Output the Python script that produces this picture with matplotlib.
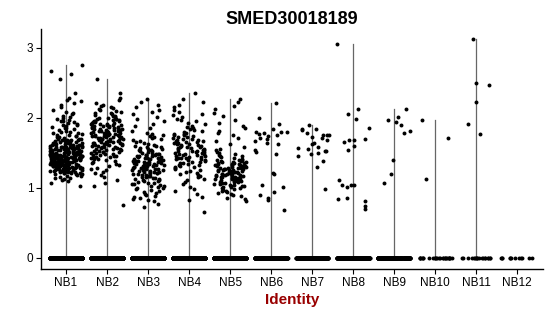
import numpy as np
import matplotlib
matplotlib.use("Agg")
import matplotlib.pyplot as plt

plt.rcParams['font.family'] = ['Liberation Sans', 'DejaVu Sans']

title = "SMED30018189"
clusters = ["NB1", "NB2", "NB3", "NB4", "NB5", "NB6",
            "NB7", "NB8", "NB9", "NB10", "NB11", "NB12"]

# cells with zero expression per cluster (the flat band at 0)
zero_counts = [800, 700, 600, 600, 600, 400, 300, 300, 200, 25, 18, 12]

# big clusters: expression read as histogram (bin start -> cell count), bins of 0.1
bin_width = 0.1
nb1_bins = {1.0: 2, 1.1: 10, 1.2: 30, 1.3: 48, 1.4: 52, 1.5: 40, 1.6: 25,
            1.7: 12, 1.8: 9, 1.9: 9, 2.0: 5, 2.1: 3, 2.2: 4, 2.3: 1,
            2.5: 1, 2.6: 2, 2.7: 1}
nb2_bins = {0.7: 1, 1.0: 2, 1.1: 3, 1.2: 5, 1.3: 6, 1.4: 14, 1.5: 17,
            1.6: 20, 1.7: 24, 1.8: 22, 1.9: 17, 2.0: 10, 2.1: 6, 2.2: 3,
            2.3: 1, 2.5: 1}
nb3_bins = {0.7: 2, 0.8: 6, 0.9: 8, 1.0: 11, 1.1: 14, 1.2: 19, 1.3: 21,
            1.4: 19, 1.5: 12, 1.6: 8, 1.7: 6, 1.8: 3, 1.9: 3, 2.0: 3,
            2.1: 3, 2.2: 2}
nb4_bins = {0.6: 1, 0.8: 2, 0.9: 3, 1.0: 3, 1.1: 5, 1.2: 8, 1.3: 11,
            1.4: 16, 1.5: 16, 1.6: 14, 1.7: 11, 1.8: 6, 1.9: 5, 2.0: 4,
            2.1: 3, 2.2: 2, 2.3: 1}
nb5_bins = {0.8: 4, 0.9: 9, 1.0: 16, 1.1: 21, 1.2: 25, 1.3: 20, 1.4: 9,
            1.5: 4, 1.6: 2, 1.7: 3, 1.8: 3, 1.9: 2, 2.0: 2, 2.1: 2, 2.2: 2}

# small clusters: individual expression values
nb6_vals = [2.21, 2.0, 1.91, 1.74, 1.8, 1.77, 1.84, 1.8, 1.8, 1.79, 1.76,
            1.71, 1.64, 1.67, 1.7, 1.63, 1.54, 1.49, 1.51, 1.2, 1.21, 1.04,
            1.01, 0.94, 0.9, 0.86, 0.83, 0.69]
nb7_vals = [0.99, 1.73, 1.79, 1.83, 1.56, 1.5, 1.46, 1.39, 1.76, 1.76, 1.49,
            1.57, 1.63, 1.84, 1.84, 1.76, 1.69, 1.71, 1.9, 1.64, 1.53, 1.53,
            1.59, 1.3]
nb8_vals = [3.06, 1.86, 1.98, 2.06, 2.13, 1.66, 1.69, 1.70, 1.69, 1.6, 1.54,
            1.01, 1.04, 1.04, 1.11, 0.81, 0.84, 0.74, 0.70, 1.04, 0.86]
nb9_vals = [2.13, 1.97, 1.81, 1.79, 1.90, 2.01, 1.94, 1.40, 1.20, 1.07]
nb10_vals = [1.97, 1.71, 1.13]
nb11_vals = [3.13, 2.50, 2.47, 2.23, 1.91, 1.77]
nb12_vals = []


def expand_bins(bins):
    vals = []
    for lo, n in bins.items():
        for k in range(n):
            vals.append(lo + (k + 0.5) / n * bin_width)
    return vals


nonzero = [expand_bins(nb1_bins), expand_bins(nb2_bins), expand_bins(nb3_bins),
           expand_bins(nb4_bins), expand_bins(nb5_bins), nb6_vals, nb7_vals,
           nb8_vals, nb9_vals, nb10_vals, nb11_vals, nb12_vals]


def jitter(n, seed):
    # deterministic hash-style spread in [-0.4, 0.4]
    idx = np.arange(n) + 1.0 + seed * 1000
    h = np.sin(idx * 12.9898 + seed * 78.233) * 43758.5453
    return (h - np.floor(h) - 0.5) * 0.8


fig = plt.figure(figsize=(5.5, 3.16), dpi=100)
ax = fig.add_axes([0.0745, 0.149, 0.913, 0.759])

for i, (name, nz, nzero) in enumerate(zip(clusters, nonzero, zero_counts)):
    xc = i + 1
    vals = list(nz) + [0.0] * nzero
    top = max(vals)
    # collapsed violin: just a thin line from min to max
    ax.plot([xc, xc], [0, top], color='#666666', lw=0.9, zorder=1)
    ax.scatter(xc + jitter(len(vals), i), vals, s=8, color='black',
               linewidths=0, zorder=2)

ax.set_xlim(0.39, 12.63)
ax.set_ylim(-0.157, 3.27)
ax.set_xticks(np.arange(1, len(clusters) + 1))
ax.set_xticklabels(clusters)
ax.set_yticks([0, 1, 2, 3])

for s in ['top', 'right']:
    ax.spines[s].set_visible(False)
for s in ['left', 'bottom']:
    ax.spines[s].set_linewidth(1.0)
ax.tick_params(axis='both', labelsize=8.5, length=3.5, width=0.8, pad=2,
               colors='black')

ax.set_title(title, fontsize=13, fontweight='bold', pad=4)
ax.set_xlabel("Identity", fontsize=11, fontweight='bold', color='#990000',
              labelpad=3)

fig.savefig("out.png", dpi=100)
